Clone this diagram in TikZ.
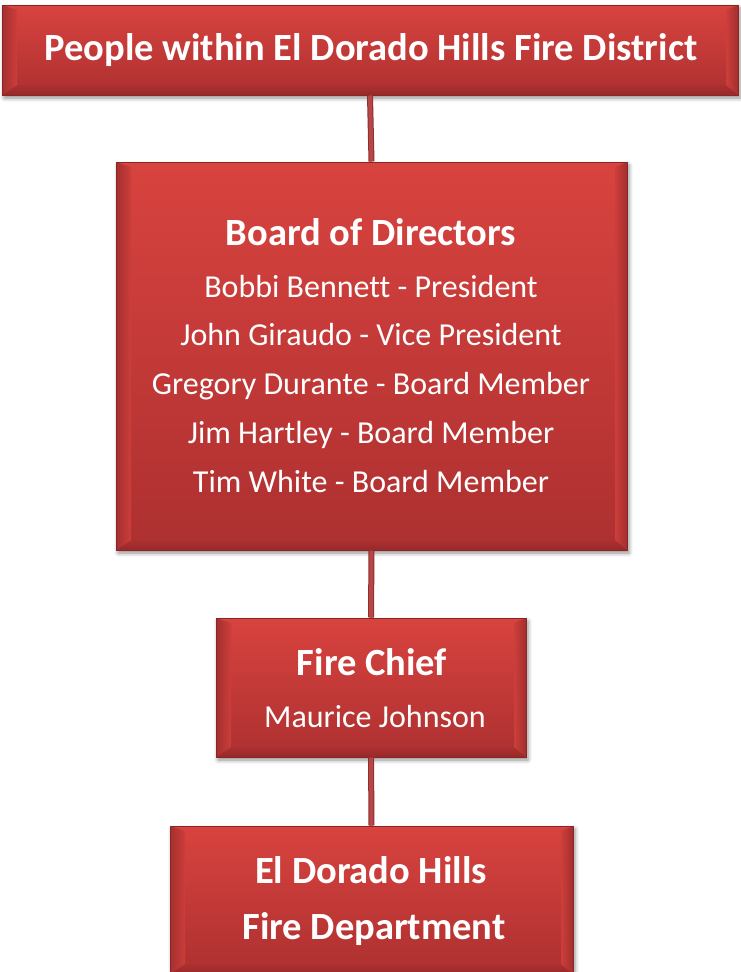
\documentclass[tikz,border=0pt]{standalone}
\usepackage{fontspec}
\setmainfont{Carlito}[Ligatures=CommonOff]
\usetikzlibrary{calc,shadows.blur}

\definecolor{filltop}{HTML}{D8433F}
\definecolor{fillbot}{HTML}{AD3030}
\definecolor{boxedge}{HTML}{8C2626}
\definecolor{slopedark}{HTML}{A32F2F}
\definecolor{slopelight}{HTML}{F27C78}
\definecolor{slopemid}{HTML}{CC3E3B}
\definecolor{basedark}{HTML}{962929}
\definecolor{linkred}{HTML}{B74646}
\definecolor{linkedge}{HTML}{8E2E2E}

\tikzset{
  bevelbox/.style={
    draw=boxedge, line width=1pt, inner sep=0pt,
    top color=filltop, bottom color=fillbot,
    blur shadow={shadow xshift=2pt, shadow yshift=-3pt,
                 shadow blur radius=4pt, shadow opacity=45},
    path picture={
      \path (path picture bounding box.south west) coordinate (@sw)
            (path picture bounding box.north east) coordinate (@ne)
            (path picture bounding box.north west) coordinate (@nw)
            (path picture bounding box.south east) coordinate (@se);
      % darker base of the bevel
      \shade[top color=fillbot, bottom color=basedark]
        (@sw) -- (@se) -- ($(@se)+(-12pt,10pt)$) -- ($(@sw)+(15pt,10pt)$) -- cycle;
      % lit left slope
      \shade[left color=slopedark, middle color=slopelight, right color=slopemid]
        (@sw) -- (@nw) -- ($(@nw)+(15pt,-5pt)$) -- ($(@sw)+(15pt,10pt)$) -- cycle;
      % lit right slope
      \shade[left color=slopemid, middle color=slopelight!90!white, right color=slopedark]
        (@se) -- (@ne) -- ($(@ne)+(-12pt,-5pt)$) -- ($(@se)+(-12pt,10pt)$) -- cycle;
    }},
  link/.style={draw=linkedge, line width=1pt, double=linkred, double distance=4pt},
  headtext/.style={text=white, inner sep=0pt, anchor=base,
                   font=\fontsize{38.5}{46}\selectfont\bfseries},
  bodytext/.style={text=white, inner sep=0pt, anchor=base,
                   font=\fontsize{32}{38}\selectfont},
}

\begin{document}
\begin{tikzpicture}[x=1pt,y=-1pt]
  \useasboundingbox (0,0) rectangle (740,972);

  % the four levels of the chart
  \node[bevelbox, minimum width=736pt, minimum height=90pt]  (district) at (370,50) {};
  \node[bevelbox, minimum width=511pt, minimum height=388pt] (board)    at (371.5,356) {};
  \node[bevelbox, minimum width=310pt, minimum height=139pt] (chief)    at (371,687.5) {};
  \node[bevelbox, minimum width=403pt, minimum height=148pt] (dept)     at (371.5,900) {};

  % reporting lines
  \draw[link] (district.south) -- (board.north);
  \draw[link] (board.south) -- (chief.north);
  \draw[link] (chief.south) -- (dept.north);

  % labels
  \node[headtext] (districtname) at (371,60) {People within El Dorado Hills Fire District};

  \node[headtext] (boardname) at (371,245) {Board of Directors};
  \node[bodytext] (member1) at (371,297) {Bobbi Bennett - President};
  \node[bodytext] (member2) at (371,345) {John Giraudo - Vice President};
  \node[bodytext] (member3) at (371,394) {Gregory Durante - Board Member};
  \node[bodytext] (member4) at (371,443) {Jim Hartley - Board Member};
  \node[bodytext] (member5) at (371,492) {Tim White - Board Member};

  \node[headtext] (chiefname) at (372,675) {Fire Chief};
  \node[bodytext] (chiefperson) at (375,727) {Maurice Johnson};

  \node[headtext] (deptname1) at (371,883) {El Dorado Hills};
  \node[headtext] (deptname2) at (374,939) {Fire Department};
\end{tikzpicture}
\end{document}
